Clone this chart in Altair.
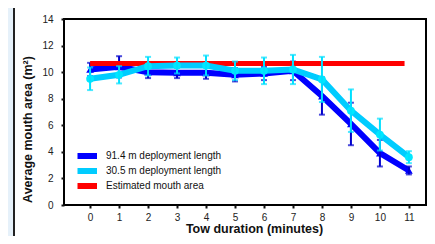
import altair as alt
import pandas as pd

# ---- data ----
minutes = list(range(12))
blue_mean = [10.2, 10.4, 10.0, 9.95, 9.95, 9.8, 9.9, 10.1, 8.2, 6.1, 3.9, 2.6]
blue_err = [0.5, 0.8, 0.45, 0.4, 0.45, 0.5, 0.5, 0.7, 1.4, 1.6, 1.0, 0.3]
cyan_mean = [9.5, 9.8, 10.45, 10.5, 10.5, 10.1, 10.1, 10.2, 9.45, 7.1, 5.3, 3.6]
cyan_err = [0.85, 0.65, 0.7, 0.6, 0.75, 0.7, 1.0, 1.1, 1.7, 1.6, 1.2, 0.45]
est_x = [0, 10.85]
est_y = [10.65, 10.65]

series_names = ["91.4 m deployment length", "30.5 m deployment length", "Estimated mouth area"]
series_colors = ["#0000ff", "#00ccff", "#ff0000"]
y_ticks = [0, 2, 4, 6, 8, 10, 12, 14]

# ---- tables ----
blue_df = pd.DataFrame({
    "x": minutes, "y": blue_mean,
    "lo": [m - e for m, e in zip(blue_mean, blue_err)],
    "hi": [m + e for m, e in zip(blue_mean, blue_err)],
    "series": series_names[0],
})
cyan_df = pd.DataFrame({
    "x": minutes, "y": cyan_mean,
    "lo": [m - e for m, e in zip(cyan_mean, cyan_err)],
    "hi": [m + e for m, e in zip(cyan_mean, cyan_err)],
    "series": series_names[1],
})
est_df = pd.DataFrame({"x": est_x, "y": est_y, "series": series_names[2]})

W, H = 362, 186
FONT = "Liberation Sans"

xs = alt.Scale(domain=[-0.9, 11.59], nice=False, zero=False)
ys = alt.Scale(domain=[0, 14], nice=False, zero=False)
cs = alt.Scale(domain=series_names, range=series_colors)

x_axis = alt.Axis(values=minutes, title="Tow duration (minutes)", grid=False, domain=False,
                  tickSize=3, tickWidth=2, tickColor="#111", labelOverlap=False,
                  labelFont=FONT, labelFontSize=10, labelColor="#222", labelPadding=4,
                  titleFont=FONT, titleFontSize=12.5, titleFontWeight="bold", titleColor="#111",
                  titleX=190, titleY=27, titleBaseline="alphabetic", zindex=1)
y_axis = alt.Axis(values=y_ticks, title="Average mouth area (m²)", grid=False, domain=False,
                  tickSize=3, tickWidth=2, tickColor="#111", labelOverlap=False,
                  labelFont=FONT, labelFontSize=10, labelColor="#222", labelPadding=8,
                  titleFont=FONT, titleFontSize=12.5, titleFontWeight="bold", titleColor="#111",
                  titleX=-30, titleY=110, zindex=1)
legend = alt.Legend(orient="none", legendX=13.5, legendY=131.5, title=None,
                    symbolType="M-2,0H2", symbolStrokeWidth=6, symbolSize=121,
                    labelFont=FONT, labelFontSize=10, labelColor="#111", labelOffset=11.5,
                    clipHeight=11, rowPadding=4, padding=0, zindex=1)

X = alt.X("x:Q", scale=xs, axis=x_axis)
Y = alt.Y("y:Q", scale=ys, axis=y_axis)
YLO = alt.Y("lo:Q", scale=ys, axis=y_axis)
YHI = alt.Y("hi:Q", scale=ys, axis=y_axis)
C = alt.Color("series:N", scale=cs, legend=legend)

frame_data = pd.DataFrame({"k": [0]})

panel = alt.Chart(frame_data).mark_rect(fill="white", stroke="#222", strokeWidth=2).encode(
    x=alt.value(-50), x2=alt.value(420), y=alt.value(-30), y2=alt.value(300))

plot_box = alt.Chart(frame_data).mark_rect(fillOpacity=0, stroke="#000", strokeWidth=2).encode(
    x=alt.value(0), x2=alt.value(W), y=alt.value(0), y2=alt.value(H))

def series_layers(df, point_mark, err_color):
    base = alt.Chart(df)
    line = base.mark_line(strokeWidth=6, strokeJoin="miter").encode(x=X, y=Y, color=C)
    rule = base.mark_rule(color=err_color, strokeWidth=2).encode(
        x=X, y=YLO, y2="hi:Q")
    cap_hi = base.mark_tick(color=err_color, orient="horizontal", size=6, thickness=2).encode(
        x=X, y=YHI)
    cap_lo = base.mark_tick(color=err_color, orient="horizontal", size=6, thickness=2).encode(
        x=X, y=YLO)
    pts = point_mark(base).encode(x=X, y=Y)
    return [line, pts, rule, cap_hi, cap_lo]

blue_layers = series_layers(
    blue_df,
    lambda b: b.mark_point(shape="triangle-up", filled=True, size=60, color="#0000ff", opacity=1),
    "#0000cc")
cyan_layers = series_layers(
    cyan_df,
    lambda b: b.mark_circle(size=60, color="#00e8ff", opacity=1),
    "#00e0ff")

est_line = alt.Chart(est_df).mark_line(strokeWidth=5).encode(x=X, y=Y, color=C)

chart = alt.layer(
    panel, *blue_layers, est_line, *cyan_layers, plot_box
).properties(
    width=W, height=H,
    padding={"left": 56, "top": 11, "right": 1, "bottom": 31},
    autosize=alt.AutoSizeParams(type="none"),
    background="#e6f1fa",
).configure_view(stroke=None).configure_axis(labelOverlap=False)

chart.save("out.html", embed_options={"renderer": "svg", "actions": False})
